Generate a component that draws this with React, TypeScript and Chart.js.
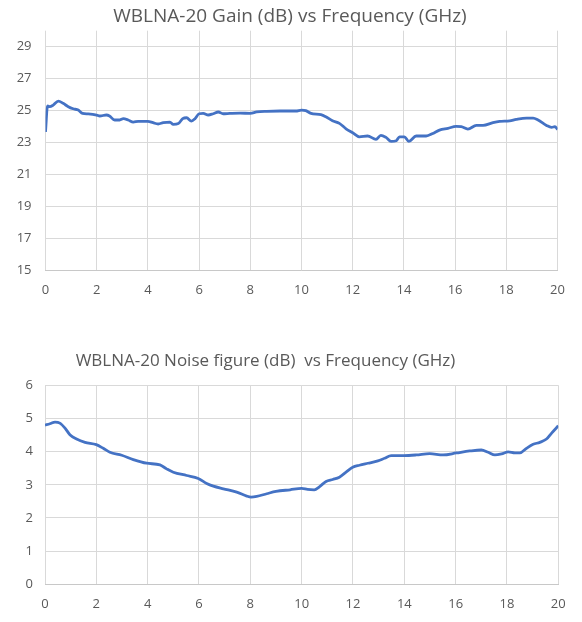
import { useEffect, useRef } from "react"
import { Chart, registerables } from "chart.js"

Chart.register(...registerables)

// Gain (dB) vs frequency (GHz)
const gainFreq = [
  0, 0.08, 0.17, 0.3, 0.5, 0.69, 0.89, 1.08, 1.28, 1.45, 1.67, 2.0, 2.12, 2.38, 2.5, 2.7, 2.9, 3.04,
  3.23, 3.43, 3.62, 4.0, 4.2, 4.4, 4.6, 4.86, 4.99, 5.19, 5.36, 5.51, 5.7, 5.84, 6.0, 6.16, 6.36,
  6.55, 6.75, 6.94, 7.2, 7.6, 8.0, 8.25, 8.64, 9.16, 9.78, 10.0, 10.17, 10.37, 10.76, 10.95, 11.21,
  11.48, 11.74, 12.0, 12.26, 12.58, 12.91, 13.1, 13.3, 13.5, 13.7, 13.83, 14.02, 14.19, 14.48,
  14.87, 15.13, 15.39, 15.72, 16.04, 16.24, 16.5, 16.83, 17.09, 17.48, 17.74, 18.13, 18.39, 18.79,
  19.05, 19.24, 19.57, 19.77, 19.9, 20.0,
]
const gainDb = [
  23.67, 25.3, 25.25, 25.35, 25.6, 25.46, 25.25, 25.12, 25.04, 24.83, 24.8, 24.73, 24.67, 24.73,
  24.67, 24.42, 24.42, 24.5, 24.42, 24.29, 24.33, 24.33, 24.25, 24.17, 24.25, 24.29, 24.15, 24.2,
  24.5, 24.56, 24.35, 24.5, 24.81, 24.83, 24.73, 24.81, 24.92, 24.81, 24.83, 24.85, 24.83, 24.92,
  24.96, 24.98, 24.98, 25.04, 25.0, 24.83, 24.75, 24.62, 24.37, 24.21, 23.87, 23.62, 23.37, 23.42,
  23.21, 23.46, 23.33, 23.08, 23.12, 23.37, 23.37, 23.08, 23.42, 23.42, 23.58, 23.79, 23.9, 24.02,
  24.0, 23.85, 24.08, 24.08, 24.25, 24.33, 24.37, 24.46, 24.54, 24.54, 24.42, 24.08, 23.96, 24.0,
  23.83,
]

// Noise figure (dB) vs frequency (GHz)
const nfFreq = [
  0, 0.19, 0.39, 0.58, 0.78, 0.97, 1.23, 1.56, 2.0, 2.27, 2.53, 2.99, 3.44, 3.96, 4.48, 4.74, 5.0,
  5.52, 5.97, 6.3, 6.56, 6.95, 7.47, 7.86, 8.03, 8.25, 8.64, 9.0, 9.55, 10.0, 10.23, 10.49, 10.69,
  10.95, 11.21, 11.47, 11.73, 11.99, 12.25, 12.58, 12.97, 13.23, 13.49, 13.98, 14.47, 14.99,
  15.51, 16.03, 16.55, 17.0, 17.27, 17.53, 17.79, 18.05, 18.31, 18.5, 18.76, 19.02, 19.28, 19.54,
  19.74, 20.0,
]
const nfDb = [
  4.8, 4.84, 4.89, 4.86, 4.71, 4.51, 4.38, 4.28, 4.21, 4.1, 3.98, 3.89, 3.76, 3.65, 3.6, 3.48,
  3.38, 3.28, 3.19, 3.04, 2.96, 2.88, 2.78, 2.66, 2.63, 2.65, 2.73, 2.8, 2.85, 2.89, 2.86, 2.85,
  2.94, 3.1, 3.16, 3.23, 3.38, 3.53, 3.59, 3.65, 3.72, 3.8, 3.88, 3.88, 3.9, 3.94, 3.9, 3.96,
  4.02, 4.05, 3.98, 3.9, 3.93, 3.99, 3.96, 3.96, 4.1, 4.22, 4.28, 4.38, 4.56, 4.78,
]

const freqTicks = [0, 2, 4, 6, 8, 10, 12, 14, 16, 18, 20]
const gainTicks = [15, 17, 19, 21, 23, 25, 27, 29]
const nfTicks = [0, 1, 2, 3, 4, 5, 6]

const LINE = "#4472C4"
const GRID = "#d9d9d9"
const TEXT = "#595959"
const FONT = "'Open Sans', sans-serif"

interface PanelProps {
  width: number
  height: number
  title: string
  titleSize: number
  titleCenter: number
  titleX: number
  plotLeft: number
  plotRight: number
  plotTop: number
  plotBottom: number
  xs: number[]
  ys: number[]
  yMin: number
  yMax: number
  yTicks: number[]
  yPadding: number
  xPadding: number
}

function Panel(p: PanelProps) {
  const chartRef = useRef<HTMLCanvasElement>(null)
  const chartInstance = useRef<Chart | null>(null)

  useEffect(() => {
    if (!chartRef.current) return
    if (chartInstance.current) chartInstance.current.destroy()
    const ctx = chartRef.current.getContext("2d")
    if (!ctx) return

    const lineH = p.titleSize * 1.2
    const padTop = p.titleCenter - lineH / 2
    const padBottom = p.plotTop - padTop - lineH

    // move the title box so its centre sits where the reference has it
    const titleShift = {
      id: "titleShift",
      afterLayout(chart: any) {
        const t = chart.titleBlock
        if (!t) return
        const half = Math.min(p.titleX, p.width - p.titleX)
        t.left = p.titleX - half
        t.right = p.titleX + half
        t.width = half * 2
      },
    }

    chartInstance.current = new Chart(ctx, {
      type: "line",
      data: {
        datasets: [
          {
            data: p.xs.map((x, i) => ({ x, y: p.ys[i] })),
            borderColor: LINE,
            borderWidth: 2.8,
            pointRadius: 0,
            cubicInterpolationMode: "monotone",
            fill: false,
          },
        ],
      },
      options: {
        responsive: false,
        animation: false,
        layout: { padding: 0 },
        scales: {
          x: {
            type: "linear",
            min: 0,
            max: 20,
            afterBuildTicks: (axis: any) => {
              axis.ticks = freqTicks.map((value) => ({ value }))
            },
            afterFit: (s: any) => {
              s.height = p.height - p.plotBottom
            },
            grid: { color: GRID, lineWidth: 1, drawTicks: false },
            border: { display: true, color: "#c8c8c8", width: 1 },
            ticks: { color: TEXT, font: { family: FONT, size: 13 }, padding: p.xPadding, maxRotation: 0 },
          },
          y: {
            min: p.yMin,
            max: p.yMax,
            afterBuildTicks: (axis: any) => {
              axis.ticks = p.yTicks.map((value) => ({ value }))
            },
            afterFit: (s: any) => {
              s.width = p.plotLeft
            },
            grid: { color: GRID, lineWidth: 1, drawTicks: false },
            border: { display: false },
            ticks: { color: TEXT, font: { family: FONT, size: 13 }, padding: p.yPadding },
          },
          pad: {
            position: "right",
            display: true,
            grid: { display: false },
            border: { display: false },
            ticks: { display: false },
            afterFit: (s: any) => {
              s.width = p.width - p.plotRight
            },
          },
        },
        plugins: {
          legend: { display: false },
          tooltip: { enabled: false },
          title: {
            display: true,
            text: p.title,
            color: TEXT,
            font: { family: FONT, size: p.titleSize, weight: "normal", lineHeight: 1.2 },
            padding: { top: padTop, bottom: padBottom },
          },
        },
      },
      plugins: [titleShift],
    })

    return () => {
      if (chartInstance.current) {
        chartInstance.current.destroy()
        chartInstance.current = null
      }
    }
  }, [])

  return <canvas ref={chartRef} width={p.width} height={p.height} style={{ display: "block" }} />
}

export default function App() {
  return (
    <div style={{ position: "absolute", left: 0, top: 0, width: 582, height: 622, background: "#fff" }}>
      <Panel
        width={582}
        height={310}
        title="WBLNA-20 Gain (dB) vs Frequency (GHz)"
        titleSize={19}
        titleCenter={16.5}
        titleX={290}
        plotLeft={45.5}
        plotRight={557.5}
        plotTop={30.7}
        plotBottom={270.7}
        xs={gainFreq}
        ys={gainDb}
        yMin={15}
        yMax={30}
        yTicks={gainTicks}
        yPadding={14}
        xPadding={12}
      />
      <Panel
        width={582}
        height={312}
        title="WBLNA-20 Noise figure (dB)  vs Frequency (GHz)"
        titleSize={17}
        titleCenter={51}
        titleX={265.5}
        plotLeft={45}
        plotRight={558.3}
        plotTop={75.3}
        plotBottom={274.3}
        xs={nfFreq}
        ys={nfDb}
        yMin={0}
        yMax={6}
        yTicks={nfTicks}
        yPadding={12}
        xPadding={12}
      />
    </div>
  )
}
